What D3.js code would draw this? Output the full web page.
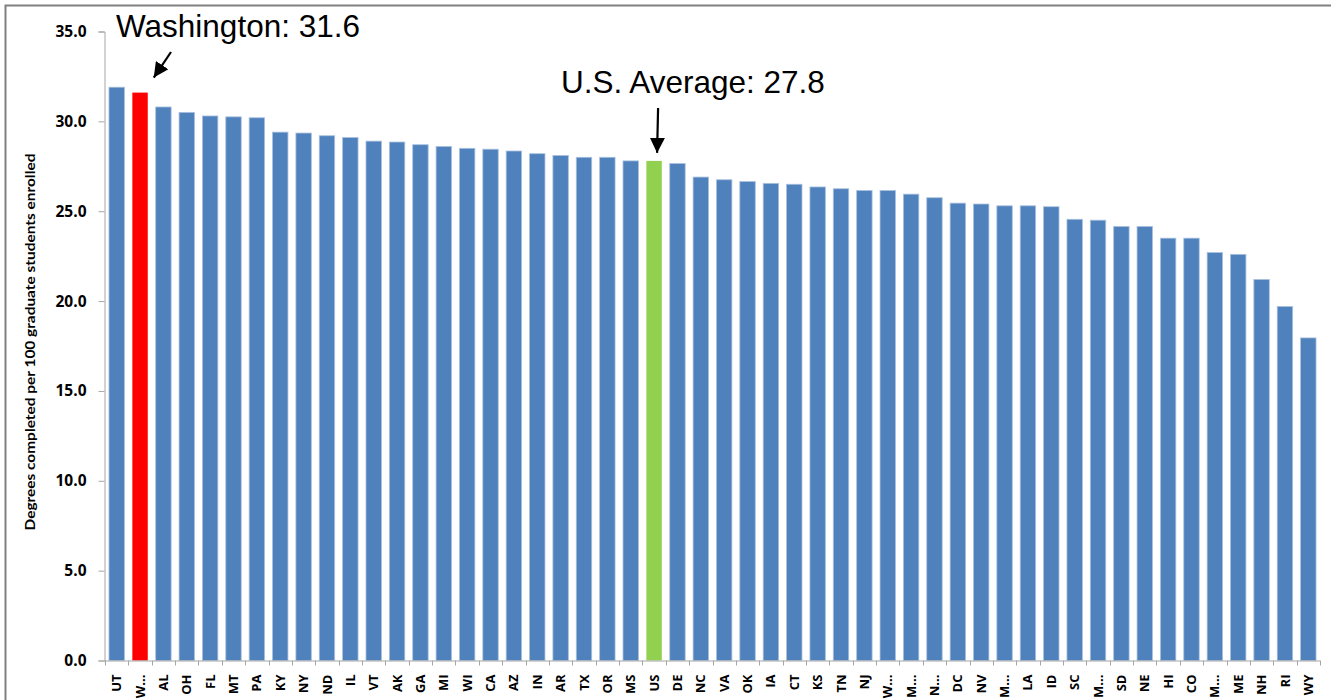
<!DOCTYPE html>
<html>
<head>
<meta charset="utf-8">
<script src="https://cdn.jsdelivr.net/npm/d3@7"></script>
<style>
  html, body { margin: 0; padding: 0; background: #fff; }
  svg { display: block; }
</style>
</head>
<body>
<svg id="chart" width="1331" height="700"></svg>
<script>
// ---- Data ----
const categories = ["UT","W...","AL","OH","FL","MT","PA","KY","NY","ND","IL","VT","AK","GA","MI","WI","CA","AZ","IN","AR","TX","OR","MS","US","DE","NC","VA","OK","IA","CT","KS","TN","NJ","W...","M...","N...","DC","NV","M...","LA","ID","SC","M...","SD","NE","HI","CO","M...","ME","NH","RI","WY"];
const values = [31.9,31.6,30.8,30.5,30.3,30.25,30.2,29.4,29.35,29.2,29.1,28.9,28.85,28.7,28.6,28.5,28.45,28.35,28.2,28.1,28.0,28.0,27.8,27.8,27.65,26.9,26.75,26.65,26.55,26.5,26.35,26.25,26.15,26.15,25.95,25.75,25.45,25.4,25.3,25.3,25.25,24.55,24.5,24.15,24.15,23.5,23.5,22.7,22.6,21.2,19.7,17.95];
const highlight = {1: "#ff0000", 23: "#92d050"};
const yTicks = [0,5,10,15,20,25,30,35];
const yTitle = "Degrees completed per 100 graduate students enrolled";
const annotations = [
  {text: "Washington: 31.6", index: 1},
  {text: "U.S. Average: 27.8", index: 23}
];

// ---- Chart ----
const svg = d3.select("#chart");
const x0 = 105, x1 = 1320, yTop = 31.5, yBot = 660.5;

svg.append("rect").attr("x",5.5).attr("y",5.5).attr("width",1340).attr("height",710)
  .attr("fill","none").attr("stroke","#808080").attr("stroke-width",2);

const idx = categories.map((d,i)=>i);
const x = d3.scaleBand().domain(idx).range([x0,x1]).paddingInner(0.34).paddingOuter(0.17);
const y = d3.scaleLinear().domain([0,35]).range([yBot,yTop]);

// bars
svg.append("g").selectAll("rect").data(values).join("rect")
  .attr("x",(d,i)=>x(i)).attr("width",x.bandwidth())
  .attr("y",d=>y(d)).attr("height",d=>y(0)-y(d))
  .attr("fill",(d,i)=>highlight[i] || "#4f81bd")
  .attr("stroke",(d,i)=>highlight[i] ? "none" : "#a9c0de").attr("stroke-width",0.8);

// y axis
const yAxis = svg.append("g").attr("transform",`translate(${x0-0.5},0)`)
  .call(d3.axisLeft(y).tickValues(yTicks).tickFormat(d3.format(".1f")).tickSize(6).tickPadding(12));
yAxis.select(".domain").attr("stroke","#a6a6a6");
yAxis.selectAll(".tick line").attr("stroke","#a6a6a6");
yAxis.selectAll("text").attr("font-family","'Open Sans', sans-serif").attr("font-weight","bold")
  .attr("font-size","15.5px").attr("fill","#000");

// x axis
const xAxis = svg.append("g").attr("transform",`translate(0,${yBot})`)
  .call(d3.axisBottom(x).tickFormat(i=>categories[i]).tickSize(0).tickPadding(0));
xAxis.select(".domain").attr("stroke","#a6a6a6").attr("d",`M${x0-0.5},0.5H${x1}`);
xAxis.selectAll(".tick text")
  .attr("font-family","'Open Sans', sans-serif").attr("font-weight","bold").attr("font-size","13px")
  .attr("fill","#000").attr("text-anchor","end").attr("dy","0.35em")
  .attr("transform","translate(0,14) rotate(-90)").attr("x",0).attr("y",0);
// boundary ticks
const step = x.step();
const bounds = idx.map(i=>x(i) - (step - x.bandwidth())/2).concat([x1]);
xAxis.append("g").selectAll("line").data(bounds).join("line")
  .attr("x1",d=>Math.round(d)+0.5).attr("x2",d=>Math.round(d)+0.5)
  .attr("y1",0).attr("y2",5).attr("stroke","#a6a6a6");

// y title
svg.append("text").attr("transform",`translate(35,342) rotate(-90)`)
  .attr("text-anchor","middle").attr("font-family","Lato, 'Open Sans', sans-serif")
  .attr("font-weight","bold").attr("font-size","13.5px").attr("fill","#000")
  .attr("textLength",377).attr("lengthAdjust","spacingAndGlyphs").text(yTitle);

// annotations
svg.append("defs").append("marker").attr("id","ah").attr("viewBox","0 0 10 10")
  .attr("refX",10).attr("refY",5).attr("markerWidth",15).attr("markerHeight",15)
  .attr("markerUnits","userSpaceOnUse").attr("orient","auto")
  .append("path").attr("d","M0,0L10,5L0,10z").attr("fill","#000");

const wa = annotations[0], us = annotations[1];
svg.append("text").attr("x",116).attr("y",37).attr("font-family","'Liberation Sans', Arial, sans-serif")
  .attr("font-size","31.5px").attr("fill","#000").text(wa.text);
svg.append("line").attr("x1",171).attr("y1",52)
  .attr("x2",x(wa.index)+x.bandwidth()+6).attr("y2",y(values[wa.index])-15)
  .attr("stroke","#000").attr("stroke-width",2.2).attr("marker-end","url(#ah)");

svg.append("text").attr("x",561).attr("y",93).attr("font-family","'Liberation Sans', Arial, sans-serif")
  .attr("font-size","31.5px").attr("fill","#000").text(us.text);
const ux = x(us.index)+x.bandwidth()/2 + 3;
svg.append("line").attr("x1",ux+1).attr("y1",108)
  .attr("x2",ux).attr("y2",y(values[us.index])-8)
  .attr("stroke","#000").attr("stroke-width",2.2).attr("marker-end","url(#ah)");
</script>
</body>
</html>
